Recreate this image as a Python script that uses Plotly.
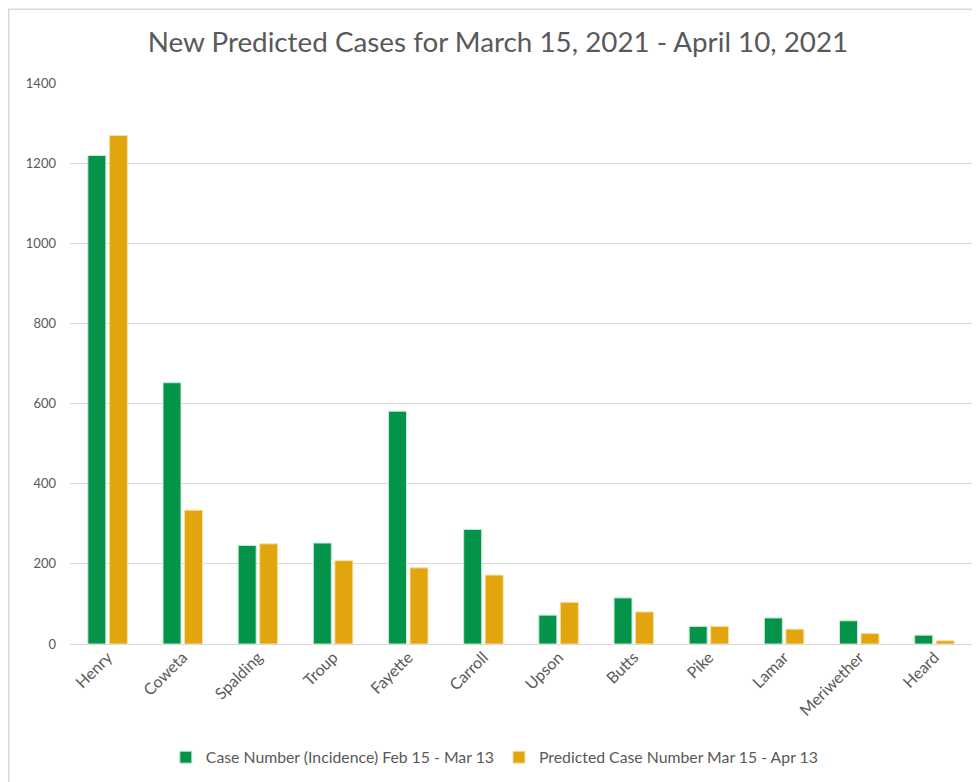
import plotly.graph_objects as go

counties = ["Henry", "Coweta", "Spalding", "Troup", "Fayette", "Carroll",
            "Upson", "Butts", "Pike", "Lamar", "Meriwether", "Heard"]
incidence = [1219, 652, 246, 252, 581, 286, 72, 115, 44, 65, 58, 22]
predicted = [1269, 334, 250, 208, 190, 172, 104, 80, 44, 37, 26, 8]

name_incidence = "Case Number (Incidence) Feb 15 - Mar 13"
name_predicted = "Predicted Case Number Mar 15 - Apr 13"
title_text = "New Predicted Cases for March 15, 2021 - April 10, 2021"
y_ticks = [0, 200, 400, 600, 800, 1000, 1200, 1400]

FONT = "Lato, Open Sans, sans-serif"
GRAY = "#595959"

fig = go.Figure()
fig.add_trace(go.Bar(x=counties, y=incidence, name=name_incidence,
                     marker=dict(color="#03944A", line=dict(color="#c9ead5", width=1))))
fig.add_trace(go.Bar(x=counties, y=predicted, name=name_predicted,
                     marker=dict(color="#E3A50E", line=dict(color="#f6e0a8", width=1))))

# page body has an 8px margin; figure sized to fit the 980x782 window
W, H = 972, 774
L, R, T, B = 62, 8, 75, 135
pw, ph = W - L - R, H - T - B

fig.update_layout(
    width=W, height=H,
    margin=dict(l=L, r=R, t=T, b=B),
    paper_bgcolor="white", plot_bgcolor="white",
    barmode="group", bargap=0.428, bargroupgap=0.163,
    title=dict(text=title_text, x=490 / W, xanchor="center", y=1 - 34 / H, yanchor="middle",
               font=dict(family=FONT, size=27.8, color=GRAY)),
    font=dict(family=FONT, color=GRAY),
    showlegend=True,
    legend=dict(orientation="h", x=0.471, xanchor="center", y=(ph - (753 - T)) / ph, yanchor="middle",
                font=dict(family=FONT, size=15.8, color=GRAY), itemwidth=30,
                traceorder="normal"),
    xaxis=dict(tickangle=-45, tickfont=dict(family=FONT, size=16, color=GRAY),
               showgrid=False, showline=False, ticks=""),
    yaxis=dict(range=[0, 1400], tickvals=y_ticks, showgrid=True, gridcolor="#d9d9d9",
               gridwidth=1, zeroline=True, zerolinecolor="#d9d9d9", zerolinewidth=1,
               tickfont=dict(family=FONT, size=13, color=GRAY),
               ticks="", ticklabelstandoff=13),
    shapes=[dict(type="rect", xref="paper", yref="paper",
                 x0=(0.75 - L) / pw, x1=(W + 5 - L) / pw,
                 y0=(ph - (H + 5 - T)) / ph, y1=(ph - (0.75 - T)) / ph,
                 line=dict(color="#d9d9d9", width=1.5), fillcolor="rgba(0,0,0,0)",
                 layer="below")],
)

fig.write_html("out.html")
